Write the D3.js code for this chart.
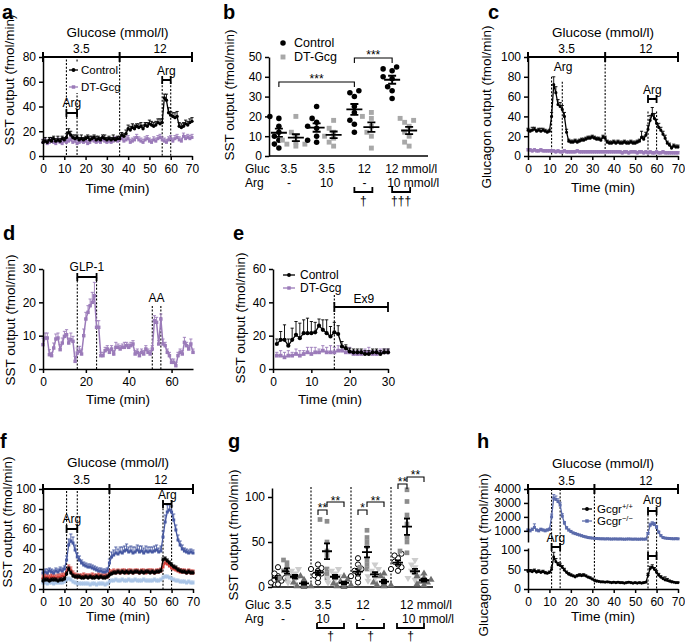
<!DOCTYPE html>
<html><head><meta charset="utf-8">
<script src="https://cdn.jsdelivr.net/npm/d3@7"></script>
<style>body{margin:0;background:#fff}svg{display:block}</style>
</head><body>
<script>
// ---------------- DATA ----------------
const minutes = d3.range(0, 71);
const xTicks70 = [0,10,20,30,40,50,60,70];

// panel a
const aControl = [11,12,11,13,12,14,12,13,12,14,13, 15,19,17,15,14,15,13,14,13,14, 15,13,14,15,13,14,13,15,14,13, 14,13,14,13,14,14,17,16,18,22, 21,23,22,24,23,24,22,25,24,26, 25,24,25,27,26,27,47,45,35,33, 32,31,32,24,23,24,26,25,27,28];
const aControlErr = [2,3,2,2,3,2,2,3,2,2,2, 3,3,3,2,3,2,2,3,2,2, 2,3,2,2,3,2,2,2,3,2, 2,2,3,2,2,2,2,2,3,3, 3,3,3,2,3,3,3,2,3,3, 3,3,3,3,4,3,3,5,4,3, 3,4,4,3,3,3,3,3,3,3];
const aDT = [11,12,10,11,12,11,10,12,11,10,12, 11,12,13,11,12,10,11,12,11,12, 10,11,13,12,11,12,11,13,12,11, 12,11,12,13,12,13,14,12,13,14, 11,12,13,15,13,12,11,13,14,12, 11,13,12,14,15,13,12,11,13,14, 12,14,15,13,12,16,14,15,14,15];
const aDTErr = 2.5;

// panel b
const bGroups = ["g1","g2","g3","g4"];
const bGluc = ["3.5","3.5","12","12 mmol/l"];
const bArg = ["-","10","-","10 mmol/l"];
const bControl = [[19,20,15,12,10,8,6,4],[25,19,17,15,14,10,8,7],[33,32,30,25,22,18,16,12],[45,44,43,40,39,35,33,29]];
const bDT = [[20,12,10,8,7,6,6,5],[18,14,12,10,9,7,5],[22,20,19,15,12,10,4],[19,18,17,15,12,10,7,5]];

// panel c
const cControl = [26,25,26,27,25,26,25,26,25,24,25, 40,72,64,52,50,47,40,24,15,14, 14,15,14,15,16,16,17,18,18,19, 18,17,17,16,19,18,14,13,13,14, 13,14,13,13,14,13,13,14,13,13, 14,15,19,17,21,27,36,42,38,33, 29,26,22,18,13,11,8,10,9,9];
const cControlErr = [2,2,3,2,2,2,3,2,2,2,2, 4,8,6,5,4,4,4,3,2,2, 2,2,2,2,2,2,2,2,2,2, 2,2,2,2,2,2,2,2,2,2, 2,2,2,2,2,2,2,2,2,2, 2,2,6,3,3,4,5,7,5,4, 4,3,3,3,2,2,2,2,2,2];
const cDT = [6,6,5,6,5,5,6,5,5,5,5, 5,5,4,5,4,4,5,4,4,4, 4,4,5,4,4,4,4,4,4,4, 4,4,4,4,4,4,4,4,4,4, 4,4,4,3,4,4,3,4,4,4, 3,4,4,3,4,3,4,3,3,4, 3,3,4,3,3,3,3,3,3,3];
const cDTErr = 1.5;

// panel d
const dDT = [7.3,9.3,9.3,4.3,4,6.3,9,9.3,5.8,7.8,9.8, 10.3,7.8,8.8,8.3,2.3,4.8,5.3,4.5,10,15, 17,19,20,22,12.5,12.5,4,4,5.5,6, 5,6,4.5,6.5,6.5,6,6.5,6.5,7,6.5, 7,7.5,4.5,5,4,5,4.5,6,5,4.5, 6,14.5,14,7.5,15,7.5,7,5,4,2, 2,1,4,5,4.5,8,7,6,7.5,5];
const dErr = [2,1.5,1.5,1.5,1,1.5,1.5,1.5,1.5,1.5,1.5, 1.5,1.5,2,1.5,1.5,1.5,1.5,1.5,2,2, 2,2,3,4,2,2,1,1,1,1, 1,1,1,1.5,1,1,1,1.5,1,1, 1,1,1,1,1,1,1,1,1,1, 1,1.5,1.5,1,1.5,1.5,1,1,1,1, 1,1,1,1,1,1.5,1,1,1.5,1];

// panel e
const eTime = [1,2,3,4,5,6,7,8,9,10,11,12,13,14,15,16,17,18,19,20,21,22,23,24,25,26,27,28,29,30];
const eControl = [15,17.5,17.5,14,17.5,20.5,18.5,21.5,21.5,21.5,22,26,23.5,21.5,19.5,22,21,13.5,12.5,10.5,10,10,10,9,9,10,10,9,10,10];
const eControlErr = [3,5,9,4,7,8,9,8,9,7,6,4,6,8,6,6,5,3,2,2,2,2,2,2,2,2,2,2,2,2];
const eDT = [8,8,7,8,8,9,8,9,10,9,10,10,11,10,10,10,11,11,10,10,9,9,9,10,10,9,9,10,10,10];
const eDTErr = [2,3,3,3,2,3,3,2,3,4,3,2,3,3,4,3,3,2,2,3,2,2,2,2,3,2,2,2,2,2];

// panel f
const fDark = [16,17,16,18,17,16,18,17,19,18,20, 29,44,48,46,39,32,29,26,24,23, 22,22,21,20,19,18,18,17,17,18, 26,32,34,36,35,37,36,38,39,37, 38,36,37,39,37,38,36,38,37,38, 37,38,39,37,38,52,67,77,79,77, 69,59,49,44,40,38,37,36,37,36];
const fDarkErr = [3,3,4,3,3,3,3,3,3,3,3, 4,6,7,6,5,4,4,3,3,3, 3,3,3,3,3,3,3,3,3,3, 4,5,5,6,5,5,6,5,6,5, 5,6,5,5,6,5,5,5,5,4, 5,5,5,4,5,6,7,7,6,6, 6,5,5,4,4,3,3,3,3,3];
const fRed = [11,12,12,11,12,12,11,12,12,13,13, 17,21,19,15,13,12,12,12,13,12, 12,12,13,12,12,13,12,12,13,12, 16,16,17,16,17,16,17,17,16,17, 17,16,17,17,16,17,17,16,17,17, 17,16,17,17,18,22,26,25,23,21, 20,19,18,17,17,17,16,17,16,16];
const fBlack = [8,9,9,8,9,9,9,8,9,9,10, 15,20,16,13,12,12,12,11,11,12, 11,12,11,11,12,11,12,11,11,12, 14,15,16,16,17,16,17,16,17,16, 17,16,17,17,16,17,16,17,17,16, 17,16,17,17,18,29,30,28,26,24, 22,21,19,18,17,17,16,17,16,16];
const fLight = [6,6,5,6,6,5,6,6,6,6,7, 9,10,9,7,6,5,5,5,5,5, 5,4,5,5,4,5,5,5,4,5, 7,8,8,9,8,8,9,8,8,9, 8,8,9,8,8,8,9,8,8,8, 8,9,8,8,9,11,12,12,11,10, 9,8,8,7,7,7,6,7,6,6];

// panel g
const gGroups = ["g1","g2","g3","g4"];
const gGluc = ["3.5","3.5","12","12 mmol/l"];
const gArg = ["-","10","-","10 mmol/l"];
const gCircle = [[22,15,12,10,8,7,5,3],[25,21,20,18,15,13,10,5],[32,25,20,18,15,12,10,5],[37,35,32,28,25,22,20,18]];
const gSquare = [[30,27,22,18,15,12,10,8],[75,73,50,40,35,20,15,10],[63,55,50,45,30,25,22,20],[108,95,80,70,55,50,40,38]];
const gDown = [[20,18,15,12,10,8,5,3],[20,18,15,12,10,8,5,3],[25,20,18,15,12,10,7,5],[30,25,22,18,15,12,10,8]];
const gUp = [[12,8,5,3,2,1,1,0],[12,8,6,4,3,2,1,0],[15,12,8,5,3,2,2,1],[15,12,10,8,6,5,3,2]];

// panel h
const hBlue = [1050,1000,1100,1250,1050,1000,1100,1050,1000,1050,1100, 2000,3350,3250,3100,2850,2050,1550,1200,1050,950, 850,800,750,700,650,600,560,520,500,480, 460,450,440,430,430,420,430,420,410,420, 420,410,420,410,400,410,420,410,400,410, 400,400,410,400,410,800,1400,1500,1450,1250, 900,650,520,480,460,450,440,430,440,430];
const hBlueErr = [80,80,100,250,80,80,90,80,80,90,100, 200,250,250,200,200,180,120,100,80,80, 60,60,60,50,50,50,50,40,40,40, 30,30,30,30,30,30,30,30,30,30, 30,30,30,30,30,30,30,30,30,30, 30,30,30,30,30,80,150,150,150,120, 80,60,40,40,30,30,30,30,30,30];
const hBlack = [45,46,44,47,43,45,42,44,41,40,42, 50,82,70,62,60,55,48,42,38,35, 33,31,33,35,34,35,33,30,28,25, 22,20,19,18,18,17,18,17,16,17, 16,17,16,16,15,16,17,16,15,16, 15,16,15,16,17,35,52,56,50,42, 35,30,26,23,22,20,18,17,16,16];
const hBlackErr = [4,4,5,4,4,4,4,4,4,3,4, 6,12,8,6,6,5,5,4,4,4, 3,3,4,4,4,4,3,3,3,3, 3,3,2,2,2,2,2,2,2,2, 2,2,2,2,2,2,2,2,2,2, 2,2,2,2,2,5,6,6,5,5, 5,4,4,8,5,3,3,2,2,2];

// ---------------- DRAWING ----------------
const FONT = "'Liberation Sans', Arial, Helvetica, sans-serif";
const PURPLE = "#9b7bb9", DARKBLUE = "#4759a2", LIGHTBLUE = "#a9c4e6", RED = "#d4403a", HBLUE = "#5b6bab";
const svg = d3.select("body").append("svg").attr("width", 685).attr("height", 644).style("font-family", FONT);
svg.append("rect").attr("width", 685).attr("height", 644).attr("fill", "#fff");

function addText(x, y, s, o = {}) {
  return svg.append("text").attr("x", x).attr("y", y).text(s)
    .attr("font-size", o.size || 12).attr("text-anchor", o.anchor || "start")
    .attr("font-weight", o.weight || "normal").attr("fill", o.fill || "#000").attr("font-family", FONT);
}
function yTitle(x, cy, s) {
  svg.append("text").attr("transform", `translate(${x},${cy}) rotate(-90)`).attr("text-anchor", "middle")
    .attr("font-size", 13.5).attr("font-family", FONT).text(s);
}
function styleAxis(g) {
  g.select(".domain").attr("stroke", "#000").attr("stroke-width", 1.5);
  g.selectAll(".tick line").attr("stroke", "#000").attr("stroke-width", 1.5);
  g.selectAll("text").attr("font-size", 12).attr("fill", "#000").attr("font-family", FONT);
}
function leftAxis(scale, x, ticks) {
  const g = svg.append("g").attr("transform", `translate(${x},0)`)
    .call(d3.axisLeft(scale).tickValues(ticks).tickSize(4).tickSizeOuter(0).tickPadding(3).tickFormat(d3.format("d")));
  styleAxis(g); return g;
}
function bottomAxis(scale, y, ticks) {
  const g = svg.append("g").attr("transform", `translate(0,${y})`)
    .call(d3.axisBottom(scale).tickValues(ticks).tickSize(4).tickSizeOuter(0).tickPadding(4).tickFormat(d3.format("d")));
  styleAxis(g); return g;
}
function dotted(x, y1, y2) {
  svg.append("line").attr("x1", x).attr("x2", x).attr("y1", y1).attr("y2", y2)
    .attr("stroke", "#000").attr("stroke-width", 1.1).attr("stroke-dasharray", "2,1.6");
}
function hBracket(x1, x2, y, w = 1.8, h = 4) {
  svg.append("path").attr("d", `M${x1},${y-h}V${y+h}M${x1},${y}H${x2}M${x2},${y-h}V${y+h}`)
    .attr("stroke", "#000").attr("stroke-width", w).attr("fill", "none");
}
function glucoseBar(xs, y, brk, titleY, labY) {
  const [x0, x1] = xs.range();
  svg.append("path").attr("d", `M${x0},${y}H${x1}M${x0},${y-5}V${y+5}M${xs(brk)},${y-5}V${y+5}M${x1},${y-5}V${y+5}`)
    .attr("stroke", "#000").attr("stroke-width", 2).attr("fill", "none");
  addText((x0 + x1) / 2, titleY, "Glucose (mmol/l)", {size: 13.5, anchor: "middle"});
  addText(xs(18), labY, "3.5", {anchor: "middle"});
  addText(xs(55), labY, "12", {anchor: "middle"});
}
function marker(g, shape, x, y, color, size) {
  const sym = {circle: d3.symbolCircle, square: d3.symbolSquare, triangle: d3.symbolTriangle, down: d3.symbolTriangle}[shape];
  g.append("path").attr("d", d3.symbol().type(sym).size(size)())
    .attr("transform", `translate(${x},${y})` + (shape === "down" ? " rotate(180)" : ""))
    .attr("fill", color);
}
function drawTS(xs, ys, times, vals, errs, o) {
  const g = svg.append("g");
  const pts = vals.map((v, i) => ({t: times[i], v, e: Array.isArray(errs) ? errs[i] : errs}));
  g.selectAll("path.eb").data(pts).join("path")
    .attr("d", d => { const x = xs(d.t), y0 = ys(d.v), y1 = ys(d.v + d.e); return `M${x},${y0}V${y1}M${x-1.6},${y1}H${x+1.6}`; })
    .attr("stroke", o.color).attr("stroke-width", 0.9).attr("fill", "none");
  g.append("path").datum(pts).attr("d", d3.line().x(d => xs(d.t)).y(d => ys(d.v)))
    .attr("stroke", o.color).attr("stroke-width", o.lw || 1.3).attr("fill", "none");
  pts.forEach(d => marker(g, o.shape, xs(d.t), ys(d.v), o.color, o.size || 9));
}
function legendItem(x1, x2, y, color, shape, label, tx, size = 11.5) {
  svg.append("line").attr("x1", x1).attr("x2", x2).attr("y1", y).attr("y2", y).attr("stroke", color).attr("stroke-width", 1.3);
  marker(svg, shape, (x1 + x2) / 2, y, color, 12);
  return addText(tx, y + 4, label, {size});
}
function sigBracket(x1, x2, y, label, labY, drop = 5) {
  svg.append("path").attr("d", `M${x1},${y+drop}V${y}H${x2}V${y+drop}`).attr("stroke", "#000").attr("stroke-width", 1.1).attr("fill", "none");
  addText((x1 + x2) / 2, labY, label, {anchor: "middle", size: 12});
}
function underBracket(x1, x2, y, label, labY) {
  svg.append("path").attr("d", `M${x1},${y-5}V${y}H${x2}V${y-5}`).attr("stroke", "#000").attr("stroke-width", 1.8).attr("fill", "none");
  addText((x1 + x2) / 2, labY, label, {anchor: "middle", size: 12});
}
function scatterCol(cx, vals, ys, o) {
  const placed = [];
  vals.map(v => v).sort((a, b) => a - b).forEach(v => {
    const py = ys(v);
    const cands = [0, -1, 1, -2, 2, -3, 3].map(k => k * o.step);
    let pos = cx;
    for (const off of cands) {
      if (placed.every(p => Math.hypot(p.x - (cx + off), p.y - py) >= o.minDist)) { pos = cx + off; break; }
    }
    placed.push({x: pos, y: py});
  });
  placed.forEach(p => {
    if (o.shape === "open") {
      svg.append("circle").attr("cx", p.x).attr("cy", p.y).attr("r", o.r).attr("fill", "#fff").attr("stroke", "#000").attr("stroke-width", 1);
    } else marker(svg, o.shape, p.x, p.y, o.color, o.size);
  });
  const m = d3.mean(vals), sem = d3.deviation(vals) / Math.sqrt(vals.length);
  svg.append("path").attr("d", `M${cx-o.hw},${ys(m)}H${cx+o.hw}M${cx},${ys(m-sem)}V${ys(m+sem)}M${cx-o.cw},${ys(m-sem)}H${cx+o.cw}M${cx-o.cw},${ys(m+sem)}H${cx+o.cw}`)
    .attr("stroke", "#000").attr("stroke-width", 1.8).attr("fill", "none");
}

// ---------- Panel letters ----------
[["a",2,19],["b",223,19],["c",488,19],["d",3,240],["e",233,240],["f",0,448],["g",228,448],["h",477,448]]
  .forEach(([s, x, y]) => addText(x, y, s, {size: 20, weight: "bold"}));

// ---------- Panel a ----------
{
  const xs = d3.scaleLinear([0, 70], [43, 192]), ys = d3.scaleLinear([0, 80], [156, 57]);
  dotted(xs(36), 57, 156); dotted(xs(11), ys(78), 156); dotted(xs(16), ys(78), 156);
  dotted(xs(56), ys(60), 156); dotted(xs(60), ys(60), 156);
  drawTS(xs, ys, minutes, aDT, aDTErr, {color: PURPLE, shape: "square", size: 9});
  drawTS(xs, ys, minutes, aControl, aControlErr, {color: "#000", shape: "circle", size: 9});
  leftAxis(ys, 43, [0, 20, 40, 60, 80]); bottomAxis(xs, 156, xTicks70);
  glucoseBar(xs, 57, 36, 37, 53);
  hBracket(xs(11), xs(16), 113); addText(xs(13.5), 107, "Arg", {anchor: "middle"});
  hBracket(xs(56), xs(60), 80); addText(xs(58), 75, "Arg", {anchor: "middle"});
  svg.append("rect").attr("x", 68).attr("y", 63).attr("width", 10).attr("height", 30).attr("fill", "#fff");
  legendItem(69, 78, 70, "#000", "circle", "Control", 81);
  legendItem(69, 78, 87, PURPLE, "square", "DT-Gcg", 81);
  addText(xs(35), 193, "Time (min)", {size: 13.5, anchor: "middle"});
  yTitle(14, 80, "SST output (fmol/min)");
}

// ---------- Panel b ----------
{
  const xb = d3.scaleBand(bGroups, [269, 420]), ys = d3.scaleLinear([0, 50], [156, 57]);
  const cx = g => xb(g) + xb.bandwidth() / 2;
  leftAxis(ys, 269, [0, 10, 20, 30, 40, 50]);
  svg.append("line").attr("x1", 269).attr("x2", 428).attr("y1", 156).attr("y2", 156).attr("stroke", "#000").attr("stroke-width", 1.5);
  bGroups.forEach((g, i) => {
    scatterCol(cx(g) - 9, bControl[i], ys, {shape: "circle", color: "#000", size: 24, step: 4.5, minDist: 5, hw: 8, cw: 4});
    scatterCol(cx(g) + 8, bDT[i], ys, {shape: "square", color: "#a8a8a8", size: 24, step: 4.5, minDist: 5, hw: 8, cw: 4});
  });
  sigBracket(cx("g1") - 9, cx("g3") - 9, 82, "***", 83);
  sigBracket(cx("g3") - 9, cx("g4") - 9, 58, "***", 59);
  marker(svg, "circle", 283, 43, "#000", 24); addText(294, 47, "Control", {size: 12.5});
  marker(svg, "square", 283, 57, "#a8a8a8", 24); addText(294, 61, "DT-Gcg", {size: 12.5});
  addText(245, 173, "Gluc"); addText(245, 187, "Arg");
  bGroups.forEach((g, i) => {
    if (i < 3) { addText(cx(g) + 1, 173, bGluc[i], {anchor: "middle"}); addText(cx(g) + 1, 187, bArg[i], {anchor: "middle"}); }
    else { addText(cx(g) - 16, 173, bGluc[i]); addText(cx(g) - 14, 187, bArg[i]); }
  });
  underBracket(cx("g3") - 9, cx("g3") + 9, 192, "†", 205);
  underBracket(cx("g4") - 9, cx("g4") + 9, 192, "†††", 205);
  yTitle(234, 95, "SST output (fmol/min)");
}

// ---------- Panel c ----------
{
  const xs = d3.scaleLinear([0, 70], [528, 678]), ys = d3.scaleLinear([0, 100], [156, 57]);
  dotted(xs(36), 57, 156); dotted(xs(11), ys(80), 156); dotted(xs(16), ys(75), 156);
  dotted(xs(56), ys(45), 156); dotted(xs(60), ys(45), 156);
  drawTS(xs, ys, minutes, cDT, cDTErr, {color: PURPLE, shape: "square", size: 9, lw: 2.5});
  drawTS(xs, ys, minutes, cControl, cControlErr, {color: "#000", shape: "circle", size: 8});
  leftAxis(ys, 528, [0, 20, 40, 60, 80, 100]); bottomAxis(xs, 156, xTicks70);
  glucoseBar(xs, 57, 36, 37, 53);
  addText(563, 71, "Arg", {anchor: "middle"});
  hBracket(xs(56), xs(60), 99); addText(xs(58), 94, "Arg", {anchor: "middle"});
  addText(603, 192, "Time (min)", {size: 13.5, anchor: "middle"});
  yTitle(491, 107, "Glucagon output (fmol/min)");
}

// ---------- Panel d ----------
{
  const xs = d3.scaleLinear([0, 70], [43, 193]), ys = d3.scaleLinear([0, 30], [369, 269]);
  dotted(xs(16), 277, 369); dotted(xs(25), 277, 369); dotted(xs(51), 306, 369); dotted(xs(55), 306, 369);
  drawTS(xs, ys, minutes, dDT, dErr, {color: PURPLE, shape: "square", size: 12, lw: 1.5});
  leftAxis(ys, 43, [0, 10, 20, 30]); bottomAxis(xs, 369, [0, 20, 40, 60]);
  hBracket(xs(16), xs(25), 277); addText(xs(20.5), 271, "GLP-1", {anchor: "middle"});
  addText(xs(53), 302, "AA", {anchor: "middle"});
  addText(118, 404, "Time (min)", {size: 13.5, anchor: "middle"});
  yTitle(15, 320, "SST output (fmol/min)");
}

// ---------- Panel e ----------
{
  const xs = d3.scaleLinear([0, 30], [273, 388]), ys = d3.scaleLinear([0, 60], [369, 269]);
  dotted(xs(16), 295, 369);
  drawTS(xs, ys, eTime, eDT, eDTErr, {color: PURPLE, shape: "square", size: 14});
  drawTS(xs, ys, eTime, eControl, eControlErr, {color: "#000", shape: "circle", size: 14});
  leftAxis(ys, 273, [0, 20, 40, 60]); bottomAxis(xs, 369, [0, 10, 20, 30]);
  hBracket(xs(16), xs(30), 307, 1.8, 5); addText(xs(21), 303, "Ex9");
  legendItem(283, 295, 275, "#000", "circle", "Control", 300, 12);
  legendItem(283, 295, 288, PURPLE, "square", "DT-Gcg", 300, 12);
  addText(330, 404, "Time (min)", {size: 13.5, anchor: "middle"});
  yTitle(245, 318, "SST output (fmol/min)");
}

// ---------- Panel f ----------
{
  const xs = d3.scaleLinear([0, 70], [43, 193]), ys = d3.scaleLinear([0, 100], [589, 489]);
  dotted(xs(31), 489, 589); dotted(xs(11), 491, 589); dotted(xs(16), 491, 589);
  dotted(xs(56), ys(88), 589); dotted(xs(60), ys(88), 589);
  drawTS(xs, ys, minutes, fLight, 2, {color: LIGHTBLUE, shape: "square", size: 9});
  drawTS(xs, ys, minutes, fRed, 3, {color: RED, shape: "square", size: 9});
  drawTS(xs, ys, minutes, fDark, fDarkErr, {color: DARKBLUE, shape: "square", size: 9});
  drawTS(xs, ys, minutes, fBlack, 2, {color: "#000", shape: "circle", size: 9});
  leftAxis(ys, 43, [0, 20, 40, 60, 80, 100]); bottomAxis(xs, 589, xTicks70);
  glucoseBar(xs, 489, 31, 467, 484);
  hBracket(xs(11), xs(16), 529); addText(xs(13.5), 523, "Arg", {anchor: "middle"});
  hBracket(xs(56), xs(60), 504); addText(xs(58), 499, "Arg", {anchor: "middle"});
  addText(118, 621, "Time (min)", {size: 13.5, anchor: "middle"});
  yTitle(12, 522, "SST output (fmol/min)");
}

// ---------- Panel g ----------
{
  const xb = d3.scaleBand(gGroups, [271, 431]), ys = d3.scaleLinear([0, 110], [587, 488]);
  const cx = g => xb(g) + xb.bandwidth() / 2;
  [1, 2, 3].forEach(i => dotted(xb(gGroups[i]), 487, 587));
  leftAxis(ys, 272, [0, 50, 100]);
  svg.append("line").attr("x1", 272).attr("x2", 433).attr("y1", 587).attr("y2", 587).attr("stroke", "#000").attr("stroke-width", 1.5);
  const common = {step: 3.5, minDist: 4, hw: 5, cw: 3};
  gGroups.forEach((g, i) => {
    scatterCol(cx(g) - 13, gCircle[i], ys, {...common, shape: "open", r: 2.6});
    scatterCol(cx(g) - 4, gSquare[i], ys, {...common, shape: "square", color: "#8c8c8c", size: 22});
    scatterCol(cx(g) + 4, gDown[i], ys, {...common, shape: "down", color: "#cdcdcd", size: 22});
    scatterCol(cx(g) + 13, gUp[i], ys, {...common, shape: "triangle", color: "#6f6f6f", size: 22});
  });
  sigBracket(cx("g2") - 13, cx("g2") - 4, 510, "**", 512);
  sigBracket(cx("g2") - 4, cx("g2") + 13, 502, "**", 505);
  sigBracket(cx("g3") - 13, cx("g3") - 4, 510, "*", 512);
  sigBracket(cx("g3") - 4, cx("g3") + 13, 502, "**", 505);
  sigBracket(cx("g4") - 13, cx("g4") - 4, 484, "**", 486);
  sigBracket(cx("g4") - 4, cx("g4") + 13, 477, "**", 479);
  addText(245, 609, "Gluc"); addText(245, 623, "Arg");
  gGroups.forEach((g, i) => {
    if (i < 3) { addText(cx(g) - 8, 609, gGluc[i], {anchor: "middle"}); addText(cx(g) - 8, 623, gArg[i], {anchor: "middle"}); }
    else { addText(cx(g) - 11, 609, gGluc[i]); addText(cx(g) - 9, 623, gArg[i]); }
  });
  [1, 2, 3].forEach(i => underBracket(cx(gGroups[i]) - 14, cx(gGroups[i]) + 13, 628, "†", 640));
  yTitle(238, 535, "SST output (fmol/min)");
}

// ---------- Panel h ----------
{
  const xs = d3.scaleLinear([0, 70], [528, 678]);
  const yTop = d3.scaleLinear([200, 4000], [542, 489]);
  const yBot = d3.scaleLinear([0, 105], [589, 548]);
  dotted(xs(11), 489, 589); dotted(xs(15), 489, 589); dotted(xs(31), 489, 589);
  dotted(xs(56), 511, 589); dotted(xs(60), 511, 589);
  drawTS(xs, yTop, minutes, hBlue, hBlueErr, {color: HBLUE, shape: "square", size: 9});
  drawTS(xs, yBot, minutes, hBlack, hBlackErr, {color: "#000", shape: "circle", size: 7});
  leftAxis(yTop, 528, [1000, 2000, 3000, 4000]);
  leftAxis(yBot, 528, [0, 50, 100]);
  bottomAxis(xs, 589, xTicks70);
  glucoseBar(xs, 489, 31, 468, 485);
  hBracket(xs(56), xs(60), 511); addText(xs(58), 504, "Arg", {anchor: "middle"});
  hBracket(xs(11), xs(15), 547); addText(xs(13), 542, "Arg", {anchor: "middle"});
  hBracket(xs(56), xs(60), 556);
  const t1 = legendItem(582, 592, 509, "#000", "circle", "Gcgr", 597, 11.5);
  t1.append("tspan").attr("dy", -4).attr("font-size", 7.5).text("+/+");
  const t2 = legendItem(582, 592, 521, HBLUE, "square", "Gcgr", 597, 11.5);
  t2.append("tspan").attr("dy", -4).attr("font-size", 7.5).text("−/−");
  addText(603, 621, "Time (min)", {size: 13.5, anchor: "middle"});
  yTitle(488, 555, "Glucagon output (fmol/min)");
}
</script>
</body></html>
